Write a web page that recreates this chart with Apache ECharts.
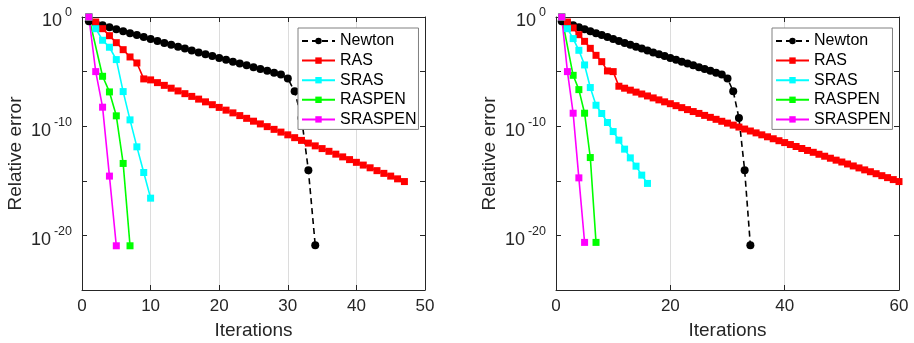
<!DOCTYPE html>
<html><head><meta charset="utf-8">
<script src="https://cdn.jsdelivr.net/npm/echarts@6/dist/echarts.min.js"></script>
<style>html,body{margin:0;padding:0;background:#fff}#c{width:914px;height:343px}</style>
</head><body><div id="c"></div><script>
// ---------------- data ----------------
const seriesNames = ['Newton', 'RAS', 'SRAS', 'RASPEN', 'SRASPEN'];
const yLabelExponents = [0, -10, -20];
const xMaxLeft = 50, xStepLeft = 10;
const xMaxRight = 60, xStepRight = 20;

const newtonIter = [1,2,3,4,5,6,7,8,9,10,11,12,13,14,15,16,17,18,19,20,21,22,23,24,25,26,27,28,29,30,31,32,33,34];
const newtonErr = [0.398,0.269,0.178,0.117,7.59e-2,4.90e-2,3.31e-2,2.19e-2,1.45e-2,9.77e-3,6.46e-3,4.27e-3,2.88e-3,1.91e-3,1.29e-3,8.51e-4,5.75e-4,3.89e-4,2.63e-4,1.78e-4,1.20e-4,8.13e-5,5.50e-5,3.72e-5,2.51e-5,1.70e-5,1.17e-5,7.94e-6,5.37e-6,2.29e-6,1.58e-7,5.75e-10,9.33e-15,1.26e-21];

const rasIterL = [1,2,3,4,5,6,7,8,9,10,11,12,13,14,15,16,17,18,19,20,21,22,23,24,25,26,27,28,29,30,31,32,33,34,35,36,37,38,39,40,41,42,43,44,45,46,47];
const rasErrL = [1,0.347,8.51e-2,1.95e-2,4.47e-3,1.02e-3,2.19e-4,6.17e-5,2.14e-6,1.74e-6,9.77e-7,5.50e-7,3.02e-7,1.70e-7,9.55e-8,5.37e-8,3.02e-8,1.70e-8,9.33e-9,5.25e-9,2.95e-9,1.66e-9,9.33e-10,5.25e-10,2.88e-10,1.62e-10,9.12e-11,5.13e-11,2.88e-11,1.62e-11,8.91e-12,5.01e-12,2.82e-12,1.58e-12,8.91e-13,5.01e-13,2.75e-13,1.55e-13,8.71e-14,4.90e-14,2.75e-14,1.55e-14,8.51e-15,4.79e-15,2.69e-15,1.51e-15,8.51e-16];
const srasIterL = [1,2,3,4,5,6,7,8,9,10];
const srasErrL = [1,8.51e-2,7.41e-3,1.70e-3,1.26e-4,1.48e-7,3.80e-10,1.29e-12,5.75e-15,2.57e-17];
const raspenIterL = [1,3,4,5,6,7];
const raspenErrL = [1,3.72e-6,1.38e-7,8.91e-10,3.89e-14,1.12e-21];
const sraspenIterL = [1,2,3,4,5];
const sraspenErrL = [1,1e-5,5.50e-9,2.69e-15,1.12e-21];

const rasIterR = [1,2,3,4,5,6,7,8,9,10,11,12,13,14,15,16,17,18,19,20,21,22,23,24,25,26,27,28,29,30,31,32,33,34,35,36,37,38,39,40,41,42,43,44,45,46,47,48,49,50,51,52,53,54,55,56,57,58,59,60];
const rasErrR = [1,0.347,0.1,2.40e-2,5.89e-3,1.35e-3,3.09e-4,8.13e-5,1.15e-5,1.0e-5,4.57e-7,3.02e-7,2.00e-7,1.32e-7,8.91e-8,5.89e-8,3.89e-8,2.57e-8,1.70e-8,1.15e-8,7.59e-9,5.01e-9,3.31e-9,2.19e-9,1.48e-9,9.77e-10,6.46e-10,4.27e-10,2.82e-10,1.91e-10,1.26e-10,8.32e-11,5.50e-11,3.63e-11,2.45e-11,1.62e-11,1.07e-11,7.08e-12,4.68e-12,3.16e-12,2.09e-12,1.38e-12,9.12e-13,6.03e-13,4.07e-13,2.69e-13,1.78e-13,1.17e-13,7.76e-14,5.25e-14,3.47e-14,2.29e-14,1.51e-14,1.00e-14,6.76e-15,4.47e-15,2.95e-15,1.95e-15,1.29e-15,8.51e-16];
const srasIterR = [1,2,3,4,5,6,7,8,9,10,11,12,13,14,15,16];
const srasErrR = [1,8.51e-2,1.05e-2,8.91e-4,4.07e-5,3.47e-7,8.32e-9,1.45e-9,2.19e-10,3.24e-11,5.25e-12,7.94e-13,1.26e-13,2.19e-14,3.31e-15,5.75e-16];
const raspenIterR = [1,3,4,5,6,7];
const raspenErrR = [1,4.57e-6,2.24e-7,1.55e-9,1.35e-13,2.29e-21];
const sraspenIterR = [1,2,3,4,5];
const sraspenErrR = [1,1e-5,1.55e-9,1.86e-15,2.29e-21];

// ---------------- chart ----------------
const FONT = '"Liberation Sans", Arial, Helvetica, sans-serif';
const TXT = '#262626';
const GRIDC = '#dcdcdc';
const colors = {Newton:'#000000', RAS:'#ff0000', SRAS:'#00ffff', RASPEN:'#00ff00', SRASPEN:'#ff00ff'};

function pairs(xs, ys) { return xs.map((x, i) => [x, ys[i]]); }

function yFormatter(v) {
  const e = Math.round(Math.log10(v));
  if (yLabelExponents.indexOf(e) < 0) return '';
  return '{b|10}{s|' + e + '}';
}

function makeX(gi, max, step, top) {
  return {
    type: 'value', gridIndex: gi, min: 0, max: max, interval: step,
    position: top ? 'top' : 'bottom',
    axisLine: {show: true, onZero: false, lineStyle: {color: TXT, width: 1}},
    axisTick: {show: true, inside: true, length: 5, lineStyle: {color: TXT}},
    axisLabel: {show: !top, fontSize: 17, fontFamily: FONT, color: TXT, margin: 8},
    splitLine: {show: !top, lineStyle: {color: GRIDC, width: 1}},
    name: top ? '' : 'Iterations', nameLocation: 'middle', nameGap: 31,
    nameMoveOverlap: false,
    nameTextStyle: {fontSize: 19, fontFamily: FONT, color: TXT}
  };
}
function makeY(gi, right) {
  return {
    type: 'log', logBase: 10, gridIndex: gi, min: 1e-25, max: 1, interval: 5,
    position: right ? 'right' : 'left',
    axisLine: {show: true, onZero: false, lineStyle: {color: TXT, width: 1}},
    axisTick: {show: true, inside: true, length: 5, lineStyle: {color: TXT}},
    axisLabel: {
      show: !right, formatter: yFormatter, margin: 10,
      rich: {
        b: {fontSize: 18, fontFamily: FONT, color: TXT, padding: [9, 0, 0, 0]},
        s: {fontSize: 12.5, fontFamily: FONT, color: TXT, padding: [0, 0, 8, 3]}
      }
    },
    splitLine: {show: false},
    name: right ? '' : 'Relative error', nameLocation: 'middle', nameGap: 57,
    nameRotate: 90, nameMoveOverlap: false,
    nameTextStyle: {fontSize: 19, fontFamily: FONT, color: TXT}
  };
}

function gridMarks() {
  return {
    silent: true, symbol: ['none', 'none'], label: {show: false}, animation: false,
    data: [
      {yAxis: 1e-5, lineStyle: {color: '#c4c4c4', type: [1, 3], width: 1}},
      {yAxis: 1e-15, lineStyle: {color: '#c4c4c4', type: [1, 3], width: 1}},
      {yAxis: 1e-10, lineStyle: {color: GRIDC, type: 'solid', width: 1}},
      {yAxis: 1e-20, lineStyle: {color: GRIDC, type: 'solid', width: 1}}
    ]
  };
}

function mk(name, xi, yi, xs, ys) {
  const isN = name === 'Newton';
  const s = {
    name: name, type: 'line', xAxisIndex: xi, yAxisIndex: yi,
    data: pairs(xs, ys),
    symbol: isN ? 'circle' : 'rect', symbolSize: isN ? 8 : 7,
    showSymbol: true,
    lineStyle: {color: colors[name], width: 1.6, type: isN ? [6, 4] : 'solid'},
    itemStyle: {color: colors[name]},
    animation: false
  };
  if (isN) s.markLine = gridMarks();
  return s;
}

function legend(left) {
  return {
    orient: 'vertical', left: left, top: 28,
    data: seriesNames, itemWidth: 33, itemHeight: 8, itemGap: 3.6,
    padding: [5, 2, 2, 3],
    backgroundColor: '#ffffff', borderColor: '#808080', borderWidth: 1,
    textStyle: {fontSize: 16, fontFamily: FONT, color: '#000'},
    selectedMode: false
  };
}

const chart = echarts.init(document.getElementById('c'), null, {renderer: 'canvas'});
chart.setOption({
  animation: false,
  backgroundColor: '#ffffff',
  grid: [
    {left: 82, top: 17, width: 343, height: 273, outerBoundsMode: 'none', containLabel: false},
    {left: 556, top: 17, width: 343, height: 273, outerBoundsMode: 'none', containLabel: false}
  ],
  legend: [legend(298), legend(772)],
  xAxis: [makeX(0, xMaxLeft, xStepLeft, false), makeX(0, xMaxLeft, xStepLeft, true),
          makeX(1, xMaxRight, xStepRight, false), makeX(1, xMaxRight, xStepRight, true)],
  yAxis: [makeY(0, false), makeY(0, true), makeY(1, false), makeY(1, true)],
  series: [
    mk('Newton', 0, 0, newtonIter, newtonErr),
    mk('RAS', 0, 0, rasIterL, rasErrL),
    mk('SRAS', 0, 0, srasIterL, srasErrL),
    mk('RASPEN', 0, 0, raspenIterL, raspenErrL),
    mk('SRASPEN', 0, 0, sraspenIterL, sraspenErrL),
    mk('Newton', 2, 2, newtonIter, newtonErr),
    mk('RAS', 2, 2, rasIterR, rasErrR),
    mk('SRAS', 2, 2, srasIterR, srasErrR),
    mk('RASPEN', 2, 2, raspenIterR, raspenErrR),
    mk('SRASPEN', 2, 2, sraspenIterR, sraspenErrR)
  ]
});
</script></body></html>
